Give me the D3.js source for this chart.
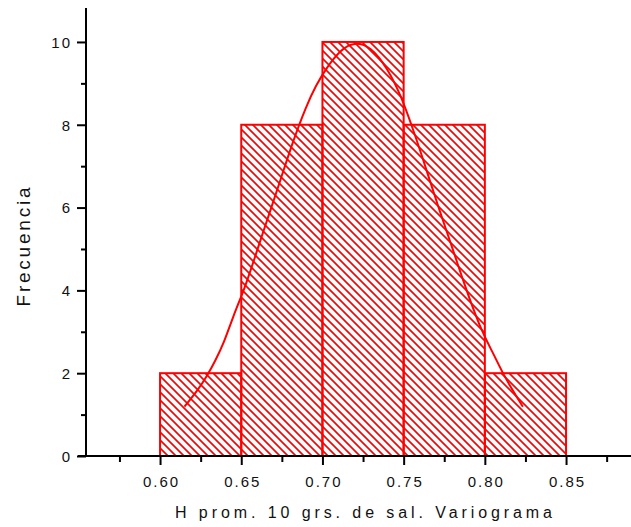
<!DOCTYPE html>
<html>
<head>
<meta charset="utf-8">
<script src="https://cdn.jsdelivr.net/npm/d3@7"></script>
<style>
  html, body { margin: 0; padding: 0; background: #fff; }
  svg { display: block; }
  text { font-family: "Liberation Sans", Arial, sans-serif; fill: #111; }
</style>
</head>
<body>
<svg id="chart" width="631" height="527"></svg>
<script>
// Histogram bins (lower edge, upper edge) and their frequencies
const binStarts = [0.60, 0.65, 0.70, 0.75, 0.80];
const binEnds   = [0.65, 0.70, 0.75, 0.80, 0.85];
const counts    = [2, 8, 10, 8, 2];

// Fitted curve, sampled along its length
const curveX = [0.615, 0.6234, 0.6288, 0.6340, 0.6392, 0.6453, 0.6500, 0.6529, 0.6580, 0.6634, 0.6685, 0.6736,
                0.6818, 0.6900, 0.6960, 0.7022, 0.7114, 0.7194, 0.7298, 0.7401, 0.7482, 0.7557,
                0.7610, 0.7660, 0.7710, 0.7762, 0.7815, 0.7865, 0.7967, 0.8049, 0.8110, 0.8172, 0.8234];
const curveY = [1.19, 1.60, 1.92, 2.30, 2.72, 3.40, 3.85, 4.15, 4.75, 5.40, 6.00, 6.60,
                7.60, 8.45, 8.95, 9.36, 9.82, 10.0, 9.89, 9.36, 8.72, 7.90,
                7.28, 6.67, 6.06, 5.46, 4.85, 4.25, 3.12, 2.50, 2.00, 1.58, 1.19];

// Axis ticks
const xMajorTicks = [0.60, 0.65, 0.70, 0.75, 0.80, 0.85];
const xMinorTicks = [0.575, 0.625, 0.675, 0.725, 0.775, 0.825, 0.875];
const yMajorTicks = [0, 2, 4, 6, 8, 10];
const yMinorTicks = [1, 3, 5, 7, 9];

const xTitle = "H prom. 10 grs. de sal. Variograma";
const yTitle = "Frecuencia";

const red = "#ff0000";
const svg = d3.select("#chart");

const x = d3.scaleLinear().domain([0.5544, 0.8900]).range([86, 631]);
const y = d3.scaleLinear().domain([0, 10.82]).range([456, 8]);

// Diagonal hatch fill for the bars
const defs = svg.append("defs");
const pat = defs.append("pattern")
  .attr("id", "hatch")
  .attr("patternUnits", "userSpaceOnUse")
  .attr("width", 8).attr("height", 8);
pat.append("path")
  .attr("d", "M-2,-2 L10,10 M-2,6 L2,10 M6,-2 L10,2")
  .attr("stroke", red)
  .attr("stroke-width", 1.7)
  .attr("fill", "none");

// Bars
const bins = counts.map((c, i) => ({ x0: binStarts[i], x1: binEnds[i], n: c }));
svg.append("g").selectAll("rect")
  .data(bins)
  .join("rect")
  .attr("x", d => x(d.x0))
  .attr("y", d => y(d.n))
  .attr("width", d => x(d.x1) - x(d.x0))
  .attr("height", d => y(0) - y(d.n))
  .attr("fill", "url(#hatch)")
  .attr("stroke", red)
  .attr("stroke-width", 2);

// Fitted curve
const pts = curveX.map((v, i) => [v, curveY[i]]);
svg.append("path")
  .datum(pts)
  .attr("d", d3.line().x(d => x(d[0])).y(d => y(d[1])).curve(d3.curveBasis))
  .attr("fill", "none")
  .attr("stroke", red)
  .attr("stroke-width", 2);

// X axis
const gx = svg.append("g").attr("transform", `translate(0,${y(0)})`);
gx.append("g")
  .call(d3.axisBottom(x).tickValues(xMinorTicks).tickSize(6).tickFormat(""))
  .call(g => g.select(".domain").remove());
gx.append("g")
  .call(d3.axisBottom(x).tickValues(xMajorTicks).tickSize(9).tickSizeOuter(0).tickFormat(d3.format(".2f")))
  .call(g => g.select(".domain").attr("stroke", "#000").attr("stroke-width", 2))
  .call(g => g.selectAll(".tick text")
    .attr("y", 0).attr("dy", null)
    .attr("transform", "translate(1,31)")
    .style("font-family", '"Liberation Sans", Arial, sans-serif')
    .style("font-size", "15px")
    .style("letter-spacing", "2px")
    .attr("fill", "#111"));
gx.selectAll("line").attr("stroke", "#000").attr("stroke-width", 2);
gx.select(".domain").attr("d", `M${x.range()[0] - 8},0H${x.range()[1]}`);

// Y axis
const gy = svg.append("g").attr("transform", `translate(${x.range()[0]},0)`);
gy.append("g")
  .call(d3.axisLeft(y).tickValues(yMinorTicks).tickSize(5).tickFormat(""))
  .call(g => g.select(".domain").remove());
gy.append("g")
  .call(d3.axisLeft(y).tickValues(yMajorTicks).tickSize(9).tickSizeOuter(0).tickFormat(d3.format("d")))
  .call(g => g.selectAll(".tick text")
    .attr("x", -14).attr("dy", "0.35em")
    .style("font-family", '"Liberation Sans", Arial, sans-serif')
    .style("font-size", "15px")
    .style("letter-spacing", "2px")
    .attr("fill", "#111"));
gy.selectAll("line").attr("stroke", "#000").attr("stroke-width", 2);
gy.select(".domain").attr("stroke", "#000").attr("stroke-width", 2)
  .attr("d", `M0,${y.range()[1]}V${y.range()[0]}`);

// Axis titles
svg.append("text")
  .attr("x", 363.5).attr("y", 518)
  .attr("text-anchor", "middle")
  .attr("textLength", 377).attr("lengthAdjust", "spacing")
  .style("font-size", "16px")
  .text(xTitle);

svg.append("text")
  .attr("transform", "translate(30,247) rotate(-90)")
  .attr("text-anchor", "middle")
  .attr("textLength", 119).attr("lengthAdjust", "spacing")
  .style("font-size", "19px")
  .text(yTitle);
</script>
</body>
</html>
